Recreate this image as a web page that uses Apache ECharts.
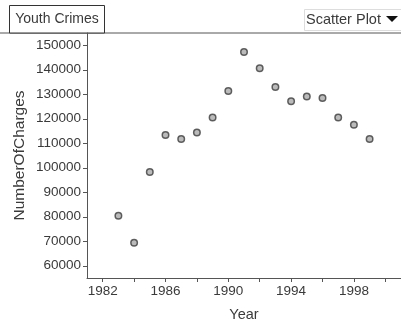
<!DOCTYPE html>
<html>
<head>
<meta charset="utf-8">
<script src="https://cdn.jsdelivr.net/npm/echarts@6/dist/echarts.min.js"></script>
<style>
  html, body { margin: 0; padding: 0; background: #fff; }
  #chart { width: 401px; height: 327px; }
</style>
</head>
<body>
<div id="chart"></div>
<script>
// 数据
const years = [1983, 1984, 1985, 1986, 1987, 1988, 1989, 1990, 1991, 1992, 1993, 1994, 1995, 1996, 1997, 1998, 1999];
const charges = [80400, 69400, 98300, 113400, 111700, 114400, 120500, 131300, 147200, 140600, 133000, 127100, 129100, 128500, 120500, 117600, 111700];
const xTicks = [1982, 1984, 1986, 1988, 1990, 1992, 1994, 1996, 1998, 2000];
const xLabels = [1982, 1986, 1990, 1994, 1998];
const yTicks = [60000, 70000, 80000, 90000, 100000, 110000, 120000, 130000, 140000, 150000];

const font = 'Liberation Sans, Arial, sans-serif';
const textColor = '#3a3a3a';
const axisColor = '#555';

const chart = echarts.init(document.getElementById('chart'));

const option = {
    animation: false,
    grid: { left: 87, right: -5, top: 33, bottom: 47 },
    xAxis: {
        type: 'value',
        min: 1981,
        max: 2001,
        name: 'Year',
        nameLocation: 'middle',
        nameGap: 29,
        nameMoveOverlap: false,
        nameTextStyle: { color: textColor, fontFamily: font, fontSize: 14.5 },
        axisLine: { onZero: false, lineStyle: { color: axisColor, width: 1 } },
        axisTick: { show: true, length: 4, customValues: xTicks, lineStyle: { color: axisColor } },
        axisLabel: { customValues: xLabels, margin: 6, color: textColor, fontFamily: font, fontSize: 13.5, formatter: v => String(v) },
        splitLine: { show: false }
    },
    yAxis: {
        type: 'value',
        min: 55000,
        max: 155000,
        name: 'NumberOfCharges',
        nameLocation: 'middle',
        nameGap: 59,
        nameMoveOverlap: false,
        nameTextStyle: { color: textColor, fontFamily: font, fontSize: 15.5 },
        axisLine: { show: true, onZero: false, lineStyle: { color: axisColor, width: 1 } },
        axisTick: { show: true, length: 4, customValues: yTicks, lineStyle: { color: axisColor } },
        axisLabel: { customValues: yTicks, margin: 6, color: textColor, fontFamily: font, fontSize: 13.5, formatter: v => String(v) },
        splitLine: { show: false }
    },
    graphic: [
        // 顶部分隔线
        { type: 'line', shape: { x1: 0, y1: 33, x2: 401, y2: 33 }, style: { stroke: axisColor, lineWidth: 1 } },
        // 标题框
        { type: 'rect', shape: { x: 9.5, y: 5.5, width: 95, height: 27.5 }, style: { fill: '#fff', stroke: '#333', lineWidth: 1 } },
        { type: 'text', x: 57, y: 19.5, style: { text: 'Youth Crimes', fill: textColor, font: '14px ' + font, align: 'center', verticalAlign: 'middle' } },
        // 下拉框
        { type: 'rect', shape: { x: 304.5, y: 9.5, width: 100, height: 21 }, style: { fill: '#fff', stroke: '#ddd', lineWidth: 1 } },
        { type: 'text', x: 306, y: 19.5, style: { text: 'Scatter Plot', fill: textColor, font: '14.5px ' + font, align: 'left', verticalAlign: 'middle' } },
        { type: 'polygon', shape: { points: [[386, 16], [398, 16], [392, 22]] }, style: { fill: '#111' } }
    ],
    series: [{
        type: 'scatter',
        data: years.map((y, i) => [y, charges[i]]),
        symbol: 'circle',
        symbolSize: 6.5,
        itemStyle: { color: '#aaa', borderColor: '#3c3c3c', borderWidth: 1.5 }
    }]
};

chart.setOption(option);
</script>
</body>
</html>
